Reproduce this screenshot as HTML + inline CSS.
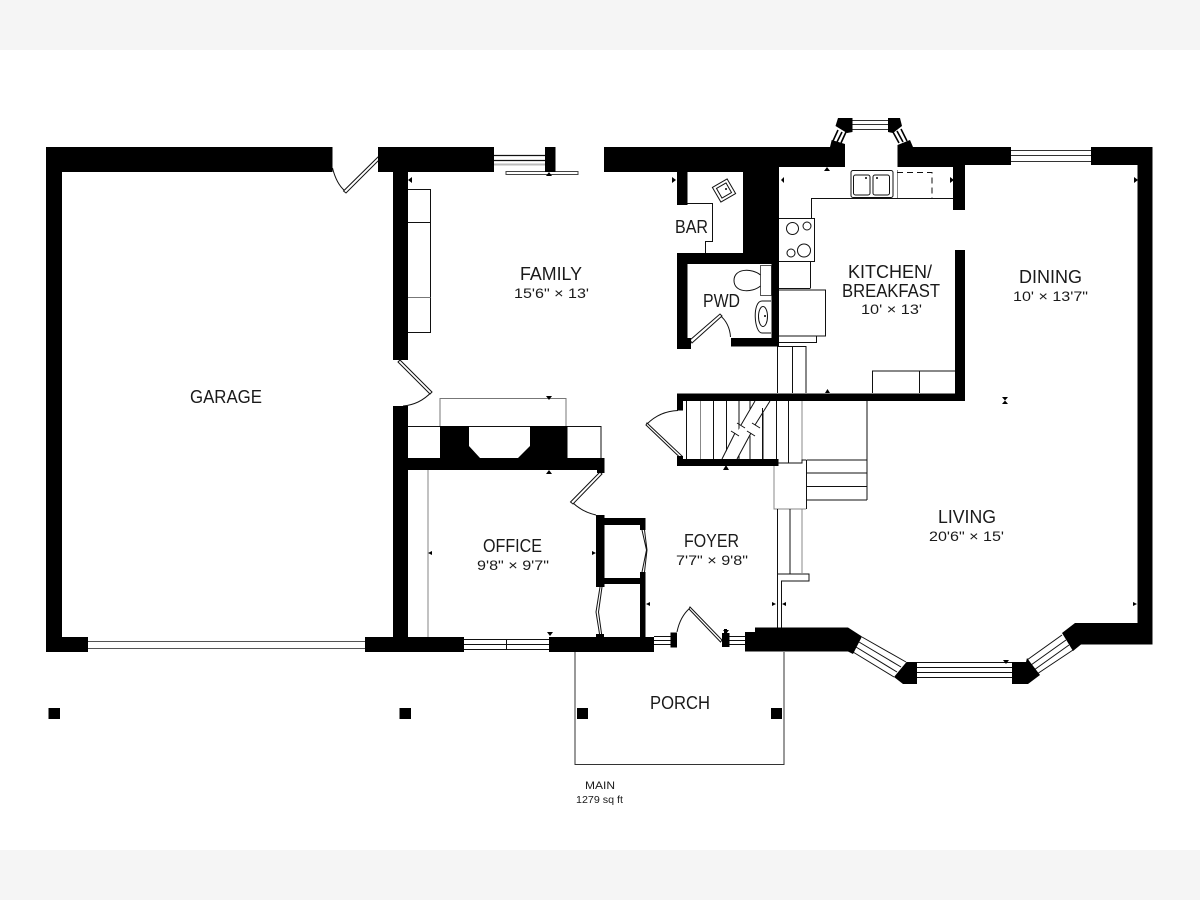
<!DOCTYPE html>
<html><head><meta charset="utf-8"><style>
html,body{margin:0;padding:0;background:#fff;width:1200px;height:900px;overflow:hidden}
svg{display:block}
text{font-family:"Liberation Sans",sans-serif;fill:#1a1a1a}
</style></head><body>
<svg width="1200" height="900" viewBox="0 0 1200 900" xmlns="http://www.w3.org/2000/svg">
<rect width="1200" height="900" fill="#fff"/>
<rect width="1200" height="50" fill="#f5f5f5"/>
<rect y="850" width="1200" height="50" fill="#f5f5f5"/>

<!-- thin details -->
<g fill="none" stroke="#111" stroke-width="1">
<!-- family shelf -->
<path d="M408 189.5H430.5V332.5H408M408 222.5H430.5" />
<path d="M408 297.5H430.5" stroke="#777"/>
<!-- slider -->
<rect x="506" y="171.5" width="72" height="3" stroke="#444"/>
<path d="M494 155.5H545M494 160.5H545" stroke-width="1.2"/>
<path d="M494 164.5H545" stroke="#bbb" stroke-width="2"/>
<!-- garage door -->
<path d="M88 641.5H365M88 648.5H365" stroke="#555"/>
<!-- fireplace -->
<path d="M440 426V398.5H566V426" stroke="#777"/>
<path d="M408 426.5H601V458" />
<path d="M428 470V637" stroke="#999" stroke-width="1.2"/>
<!-- office window -->
<path d="M464 639.5H549M464 644.5H549M464 649.5H549M506.5 639V650"/>
<!-- foyer windows -->
<path d="M654 636.5H671M654 640.5H671M654 644.5H671M729 636.5H745M729 640.5H745M729 644.5H745"/>
<!-- stairs -->
<path d="M686.5 401V459M713.5 401V459M726.5 401V459M739 401V459M750 401V459M763 401V459M776.5 401V459M788.5 401V463"/>
<path d="M700.5 401V459M802 401V460" stroke="#888"/>
<path d="M867 401V500M806.5 460H867M806.5 473H867M806.5 486.5H867M806.5 500H867M806.5 460V509M778 463H802V460H806"/>
<path d="M774 463V509H806" stroke="#888"/>
<path d="M777.5 509V628M790 509V574M777.5 574H809V581H781.5V628"/>
<path d="M802 509V574" stroke="#888"/>
<path d="M777.5 346V393M792.5 346V393M806 346V393M778 346.5H806M778 342.5H816.5V336"/>
<!-- counter -->
<path d="M872.5 393V371H955M919.5 371V393"/>
<path d="M954 198.5H811.5V218M778 218.5H814.5V261.5H778M810.5 261.5V288M778 288.5H810.5" />
<rect x="778" y="290" width="47.5" height="46"/>
<rect x="851" y="170.5" width="42" height="27" rx="2"/>
<rect x="853.5" y="175" width="16.5" height="20" rx="2"/>
<rect x="873" y="175" width="16.5" height="20" rx="2"/>
<path d="M897.5 170V198" stroke="#888"/>
<path d="M897 172.5H932V198" stroke-dasharray="6 4"/>
<circle cx="792.5" cy="228.5" r="6"/><circle cx="807" cy="226" r="4"/>
<circle cx="804" cy="250.5" r="6.5"/><circle cx="791" cy="253" r="4"/>
<!-- bar -->
<path d="M687 203.5H712.5V241.5H705.5V253"/>
<rect x="715.5" y="182" width="17" height="17" transform="rotate(-30 724 190.5)"/>
<rect x="718.5" y="185" width="11" height="11" transform="rotate(-30 724 190.5)"/>
<!-- toilet -->
<rect x="760.5" y="265.5" width="11" height="30" stroke="#555"/>
<path d="M760.5 275C752 268 734 268 734 280.5C734 293 752 293 760.5 286" />
<path d="M771 301H762C752 301 754 333 762 333H771"/>
<ellipse cx="763" cy="316.5" rx="4.5" ry="10"/>
<!-- dining window -->
<path d="M1011 150.5H1091M1011 155.5H1091M1011 161.5H1091" stroke="#333"/>
<!-- top bay windows -->
<path d="M852 120.5H888M852 124.5H888M852 129.5H888" stroke="#333"/>
<!-- porch -->
<path d="M575 652V764.5H784V652" stroke="#333"/>
<!-- bay window lines -->
<path d="M862 637L906 662M859 642L901 667M856 647L897 672M853 652L894 677"/>
<path d="M917 662.5H1012M917 667.5H1012M917 672.5H1012M917 677.5H1012"/>
<path d="M1027 660L1062 635M1031 665L1066 640M1034 670L1069 645M1037 674L1073 650"/>
<!-- doors arcs -->
<path d="M332.5 168C335 178 339 186 345 191"/>
<path d="M431.5 392C424 400 415 405 403 406"/>
<path d="M572 502C579 509 587 513 596 515"/>
<path d="M647 424C655 416 665 411 678 410.5"/>
<path d="M690 608C683 614 679 622 677 632"/>
<path d="M720 315.5C726 320 730 328 730.5 337"/>
<!-- wavy closet doors -->
<path d="M642 530L646.5 550L642 572M644.5 530L647 550L644.5 572"/>
<path d="M600 587L596 612L600 637M602 587L598.5 612L602 637"/>
</g>
<g fill="#fff" stroke="#111" stroke-width="1">
<path d="M343.5 191L378 157L380 159L346 193Z"/>
<path d="M398 362L400 360L432 392L430 394Z"/>
<path d="M570.5 502L600 472L602 474L573 504Z"/>
<path d="M647 423L682 456L680.5 458L646 425Z"/>
<path d="M690 607L722 640L720.5 642L689 609Z"/>
<path d="M690 340L720 314L722 316L692 343Z"/>
</g>

<!-- stair break band -->
<path d="M755 401L722 459H737L770 401Z" fill="#fff"/>
<path d="M739 401V425M762.5 408V459" fill="none" stroke="#111"/>
<g fill="none" stroke="#111" stroke-width="1">
<path d="M755 401L741 425M770 401L755 425M735 433L722 459M751 433L737 459"/>
<path d="M737 423L745 428M752 423L760 428M731 431L739 436M747 431L755 436"/>
</g>

<!-- walls -->
<g fill="#000">
<path d="M46 147H332.5V172H62V637H88V652H46Z"/>
<rect x="365" y="637" width="99" height="15"/>
<rect x="393" y="406" width="15" height="240"/>
<path d="M378 147H494V172H408V360H393V172H378Z"/>
<rect x="545" y="147" width="10.5" height="25"/>
<path d="M604 147H830L831.7 140L845 144V167H779V338H731V346.5H779V346.5H771.5V264H687.5V338H691V349H677V253H743V172H687.5V205H677V172H604Z"/>
<path d="M771.5 264H779V346.5H731V338.5H771.5Z"/>
<path d="M897.5 145L910 140L913 147H1011V165H965V210H953V167H897.5Z"/>
<path d="M1091 147H1152.5V644.5H1081L1073 651L1062 633L1075 623H1137.5V165H1091Z"/>
<path d="M745 632H755V627.5H848L862 636.5L853 654L848 651.5H745Z"/>
<path d="M906.5 662H917V684H903L894 677Z"/>
<path d="M1012 662H1026L1027 658L1040 675L1028 684H1012Z"/>
<rect x="670.5" y="632.5" width="6.5" height="15"/>
<path d="M722 633H724V629H727V633H729.5V647H722Z"/>
<rect x="549" y="637" width="105" height="15"/>
<!-- closets -->
<rect x="596" y="515" width="8.5" height="72"/>
<path d="M604 518H645.5V530H640V525H604Z"/>
<rect x="604" y="578" width="40" height="6"/>
<rect x="640" y="572" width="5.5" height="66"/>
<rect x="596" y="634" width="8" height="4"/>
<!-- fireplace and office wall -->
<path d="M408 458H604.5V473H597V470H408Z"/>
<path d="M440 426H469V446L480 458H440Z"/>
<path d="M530 426H567.5V458H518L530 446Z"/>
<!-- stairs walls -->
<path d="M677 393.5H955V250H965V401H683V410.5H677Z"/>
<rect x="677" y="459" width="101.5" height="7"/>
<rect x="677" y="456" width="6" height="4"/>
<!-- top bay -->
<path d="M838 118H852.5V132L847 133L835.5 126Z"/>
<path d="M888 118H900L902 126L893 133L888 132Z"/>
<!-- posts -->
<rect x="48.5" y="708" width="11.5" height="11"/>
<rect x="399.5" y="708" width="11.5" height="11"/>
<rect x="577" y="708" width="11" height="11"/>
<rect x="771" y="708" width="11" height="11"/>
<!-- dimension ticks -->
<path d="M412 177L408 180L412 183Z"/>
<path d="M549 172L546 176L552 176Z"/>
<path d="M546 396L552 396L549 400Z"/>
<path d="M546 474L552 474L549 470Z"/>
<path d="M547 632L553 632L550 636Z"/>
<path d="M432 551L428 553L432 555Z"/>
<path d="M592 551L596 553L592 555Z"/>
<path d="M650 602L646 604L650 606Z"/>
<path d="M672 177L676 180L672 183Z"/>
<path d="M784 177L781 180L784 183Z"/>
<path d="M824 171L830 171L827 167Z"/>
<path d="M950 177L954 180L950 183Z"/>
<path d="M1134 177L1138 180L1134 183Z"/>
<path d="M825 393L830 393L827.5 389Z"/>
<path d="M723 470L729 470L726 465Z"/>
<path d="M772 602L776 604L772 606Z"/>
<path d="M786 602L782 604L786 606Z"/>
<path d="M1133 602L1137 604L1133 606Z"/>
<path d="M1003 660L1009 660L1006 664Z"/>
<path d="M723 630L729 630L726 634Z"/>
<path d="M1002 397H1008L1005 400.5ZM1002 404H1008L1005 400.5Z"/>
<circle cx="866" cy="178" r="1"/><circle cx="877" cy="178" r="1"/>
<circle cx="726" cy="189" r="1"/><circle cx="765" cy="316" r="1"/>
</g>
<!-- top bay diagonal windows -->
<g fill="none" stroke="#000" stroke-width="1.6">
<path d="M838 130L833 141M842 132L837 142M846 132L841 143"/>
<path d="M893 132L899 143M897 131L903 142M901 129L907 141"/>
</g>

<!-- labels -->
<g font-size="18">
<text x="190" y="403" textLength="72" lengthAdjust="spacingAndGlyphs">GARAGE</text>
<text x="520" y="280" textLength="62" lengthAdjust="spacingAndGlyphs">FAMILY</text>
<text x="675" y="233" textLength="33" lengthAdjust="spacingAndGlyphs">BAR</text>
<text x="703" y="307" textLength="37" lengthAdjust="spacingAndGlyphs">PWD</text>
<text x="848" y="278" textLength="84" lengthAdjust="spacingAndGlyphs">KITCHEN/</text>
<text x="842" y="297" textLength="98" lengthAdjust="spacingAndGlyphs">BREAKFAST</text>
<text x="1019" y="283" textLength="63" lengthAdjust="spacingAndGlyphs">DINING</text>
<text x="483" y="552" textLength="59" lengthAdjust="spacingAndGlyphs">OFFICE</text>
<text x="684" y="547" textLength="55" lengthAdjust="spacingAndGlyphs">FOYER</text>
<text x="938" y="523" textLength="58" lengthAdjust="spacingAndGlyphs">LIVING</text>
<text x="650" y="709" textLength="60" lengthAdjust="spacingAndGlyphs">PORCH</text>
</g>
<g font-size="13.5">
<text x="514" y="298" textLength="75" lengthAdjust="spacingAndGlyphs">15'6" × 13'</text>
<text x="861" y="314" textLength="61" lengthAdjust="spacingAndGlyphs">10' × 13'</text>
<text x="1013" y="301" textLength="75" lengthAdjust="spacingAndGlyphs">10' × 13'7"</text>
<text x="477" y="570" textLength="72" lengthAdjust="spacingAndGlyphs">9'8" × 9'7"</text>
<text x="676" y="565" textLength="72" lengthAdjust="spacingAndGlyphs">7'7" × 9'8"</text>
<text x="929" y="541" textLength="75" lengthAdjust="spacingAndGlyphs">20'6" × 15'</text>
</g>
<text x="585" y="789" font-size="11" textLength="30" lengthAdjust="spacingAndGlyphs">MAIN</text>
<text x="576" y="803" font-size="10" textLength="47" lengthAdjust="spacingAndGlyphs">1279 sq ft</text>
</svg>
</body></html>
